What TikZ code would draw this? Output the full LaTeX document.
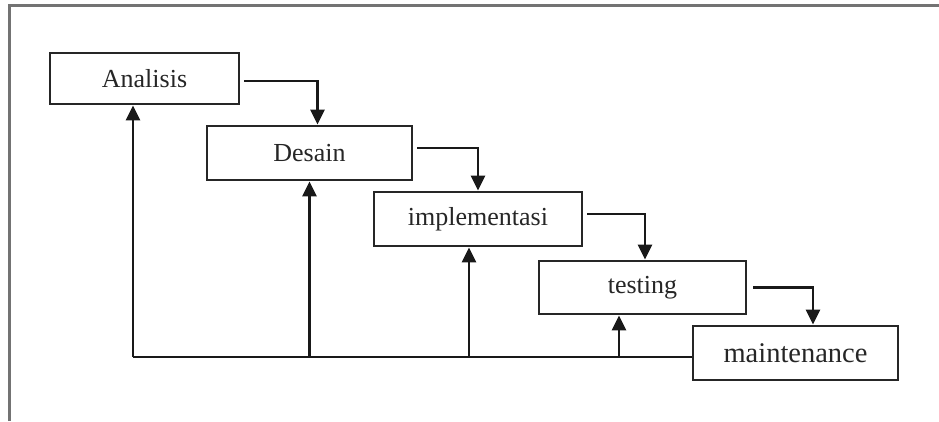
\documentclass[tikz,border=0pt]{standalone}
\usepackage{fontspec}
\setmainfont{Liberation Serif}
\usetikzlibrary{arrows.meta}
\begin{document}
\begin{tikzpicture}[x=1pt,y=-1pt,
  stagebox/.style={draw=black!85,line width=2.8pt,rectangle,inner sep=0pt,
    minimum height=53pt,font=\fontsize{26}{30}\selectfont,text=black!85},
  flow/.style={draw=black!90,line width=2.6pt,-{Triangle[length=15pt,width=14pt]}},
  plain/.style={draw=black!90,line width=2.6pt},
  frameline/.style={draw=black!55,line width=3pt}]
\useasboundingbox (0,0) rectangle (939,421);
% outer frame
\draw[frameline] (9,421) -- (9,5) -- (939,5);
% process stages
\node[stagebox,minimum width=189pt,minimum height=51pt] (A) at (144.5,78.5) {Analisis};
\node[stagebox,minimum width=205pt,minimum height=54pt] (D) at (309.5,153) {Desain};
\node[stagebox,minimum width=208pt,minimum height=54pt] (I) at (478,219) {implementasi};
\node[stagebox,minimum width=207pt,minimum height=53pt] (T) at (642.5,287.5) {testing};
\node[stagebox,minimum width=205pt,minimum height=54pt,font=\fontsize{28.5}{32}\selectfont] (M) at (795.5,353) {maintenance};
% forward steps
\draw[flow] ([xshift=4pt,yshift=-2.5pt]A.east) -| ([xshift=8pt]D.north);
\draw[flow] ([xshift=4pt,yshift=5pt]D.east) -| (I.north);
\draw[flow] ([xshift=4pt,yshift=5pt]I.east) -| ([xshift=2.5pt]T.north);
\draw[flow] ([xshift=6pt]T.east) -| ([xshift=17.5pt]M.north);
% feedback line
\coordinate (f1) at (133,357);
\coordinate (f2) at (309.5,357);
\coordinate (f3) at (469,357);
\coordinate (f4) at (619,357);
\draw[plain] (f1) -- (M.west |- f1);
\draw[flow] (f1) -- (f1 |- A.south);
\draw[flow] (f2) -- (D.south);
\draw[flow] (f3) -- (f3 |- I.south);
\draw[flow] (f4) -- (f4 |- T.south);
\end{tikzpicture}
\end{document}
